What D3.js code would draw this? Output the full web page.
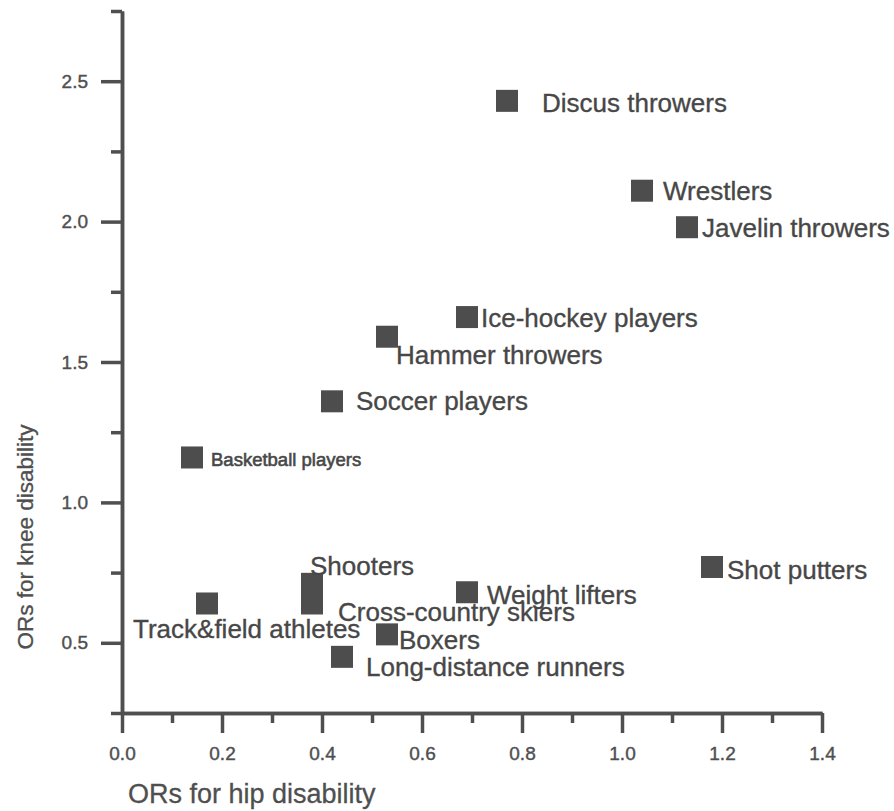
<!DOCTYPE html>
<html>
<head>
<meta charset="utf-8">
<script src="https://cdn.jsdelivr.net/npm/d3@7"></script>
<style>
  html, body { margin: 0; padding: 0; background: #fff; }
  svg { display: block; font-family: "Liberation Sans", Arial, sans-serif; }
</style>
</head>
<body>
<svg id="chart" width="894" height="811"></svg>
<script>
// Sports groups with odds ratios for hip and knee disability
const sports = [
  "Discus throwers", "Wrestlers", "Javelin throwers", "Ice-hockey players",
  "Hammer throwers", "Soccer players", "Basketball players", "Track&field athletes",
  "Shooters", "Cross-country skiers", "Boxers", "Long-distance runners",
  "Weight lifters", "Shot putters"
];
const hipOR  = [0.77, 1.04, 1.13, 0.69, 0.53, 0.42, 0.14, 0.17, 0.38, 0.38, 0.53, 0.44, 0.69, 1.18];
const kneeOR = [2.43, 2.11, 1.98, 1.66, 1.59, 1.36, 1.16, 0.64, 0.71, 0.64, 0.53, 0.45, 0.68, 0.77];

const xMajorTicks = [0.0, 0.2, 0.4, 0.6, 0.8, 1.0, 1.2, 1.4];
const xMinorTicks = [0.1, 0.3, 0.5, 0.7, 0.9, 1.1, 1.3];
const yMajorTicks = [0.5, 1.0, 1.5, 2.0, 2.5];
const yMinorTicks = [0.25, 0.75, 1.25, 1.75, 2.25, 2.75];

// Label placement relative to each marker: [dx, dy (baseline), font size]
const labelPlacement = [
  [35, 11, 26], [21, 9, 26], [15, 10, 26], [14, 10, 26],
  [9, 27, 26], [24, 9, 26], [19, 9, 18.5], [-74, 35, 26],
  [-2, -9, 26], [26, 18, 26], [12, 15, 26], [24, 19, 26],
  [20, 12, 26], [15, 12, 26]
];

const ink = "#4f4f4f";
const svg = d3.select("#chart");

const x = d3.scaleLinear().domain([0, 1.4]).range([122, 822]);
const y = d3.scaleLinear().domain([0.25, 2.75]).range([713, 11]);

// Axes
function styleAxis(g) {
  g.select(".domain").attr("stroke", ink).attr("stroke-width", 3.5);
  g.selectAll(".tick line").attr("stroke", ink).attr("stroke-width", 3.5);
  g.selectAll(".tick text").attr("fill", ink).attr("font-size", 19)
    .attr("stroke", ink).attr("stroke-width", 0.4)
    .attr("font-family", "Liberation Sans, Arial, sans-serif");
}

svg.append("g")
  .attr("transform", `translate(0,${y(0.25)})`)
  .call(d3.axisBottom(x).tickValues(xMinorTicks).tickSize(10).tickSizeOuter(0).tickFormat(""))
  .call(styleAxis);

svg.append("g")
  .attr("transform", `translate(0,${y(0.25)})`)
  .call(d3.axisBottom(x).tickValues(xMajorTicks).tickSize(20).tickSizeOuter(0)
    .tickPadding(14).tickFormat(d3.format(".1f")))
  .call(styleAxis);

svg.append("g")
  .attr("transform", `translate(${x(0)},0)`)
  .call(d3.axisLeft(y).tickValues(yMinorTicks).tickSize(11).tickSizeOuter(0).tickFormat(""))
  .call(styleAxis);

svg.append("g")
  .attr("transform", `translate(${x(0)},0)`)
  .call(d3.axisLeft(y).tickValues(yMajorTicks).tickSize(21).tickSizeOuter(0)
    .tickPadding(13).tickFormat(d3.format(".1f")))
  .call(styleAxis);

// Axis titles
svg.append("text")
  .attr("x", 128).attr("y", 803)
  .attr("fill", ink).attr("font-size", 27)
  .attr("stroke", ink).attr("stroke-width", 0.3)
  .text("ORs for hip disability");

svg.append("text")
  .attr("transform", "translate(33,537) rotate(-90)")
  .attr("text-anchor", "middle")
  .attr("fill", ink).attr("font-size", 22.5)
  .attr("stroke", ink).attr("stroke-width", 0.3)
  .text("ORs for knee disability");

// Markers
const sq = 22;
const pts = sports.map((name, i) => ({ name, hip: hipOR[i], knee: kneeOR[i], place: labelPlacement[i] }));

svg.append("g").selectAll("rect")
  .data(pts)
  .join("rect")
  .attr("x", d => x(d.hip) - sq / 2)
  .attr("y", d => y(d.knee) - sq / 2)
  .attr("width", sq)
  .attr("height", sq)
  .attr("fill", "#4d4d4d");

// Labels
svg.append("g").selectAll("text")
  .data(pts)
  .join("text")
  .attr("x", d => x(d.hip) + d.place[0])
  .attr("y", d => y(d.knee) + d.place[1])
  .attr("font-size", d => d.place[2])
  .attr("fill", "#474747")
  .attr("stroke", "#474747")
  .attr("stroke-width", d => d.place[2] < 20 ? 0.6 : 0.35)
  .text(d => d.name);
</script>
</body>
</html>
